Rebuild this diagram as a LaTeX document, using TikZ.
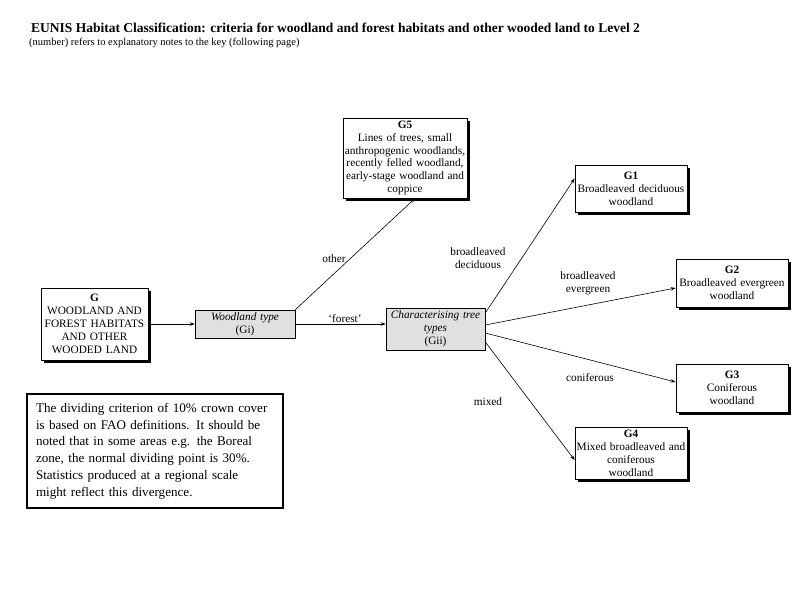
\documentclass[tikz,border=0pt]{standalone}
\usepackage{fontspec}
\setmainfont{Liberation Serif}
\usetikzlibrary{arrows.meta,positioning,calc,shadows}

\begin{document}
\begin{tikzpicture}[
			x=1pt,y=-1pt,
			every node/.style={font=\fontsize{11.3}{12.9}\selectfont},
			habitat/.style={
				draw,
				fill=white,
				align=center,
				inner sep=1pt,
				line width=0.8pt,
				drop shadow={fill=black,opacity=1,shadow xshift=2.5pt,shadow yshift=-2.5pt}
			},
			criterion/.style={
				draw,
				fill=black!12,
				align=center,
				inner sep=1pt,
				line width=0.6pt,
				drop shadow={fill=black!70,opacity=1,shadow xshift=1pt,shadow yshift=-1pt}
			},
			arrow/.style={-{Stealth[length=5pt,width=3.5pt]},line width=0.6pt},
			lbl/.style={align=center,inner sep=0pt}
			]
			
			\useasboundingbox (0,0) rectangle (800,600);
			
			\node[anchor=west,inner sep=0pt,font=\fontsize{13.5}{15}\selectfont\bfseries] (title) at (31,28)
				{EUNIS Habitat Classification: criteria for woodland and forest habitats and other wooded land to Level 2};
			\node[anchor=west,inner sep=0pt,font=\fontsize{10.5}{12}\selectfont] (subtitle) at (29,43)
				{(number) refers to explanatory notes to the key (following page)};
			
			\node[habitat,minimum width=107pt,minimum height=72pt,text width=105pt] (g) at (94.5,324)
				{\textbf{G}\\WOODLAND AND\\FOREST HABITATS\\AND OTHER\\WOODED LAND};
			\node[criterion,minimum width=100pt,minimum height=28pt,text width=98pt] (wtype) at (245,324)
				{\textit{Woodland type}\\(Gi)};
			\node[criterion,minimum width=99pt,minimum height=42pt,text width=97pt] (ctt) at (435.5,329)
				{\textit{Characterising tree}\\\textit{types}\\(Gii)};
			\node[habitat,minimum width=124pt,minimum height=80pt,text width=122pt] (g5) at (405,158)
				{\textbf{G5}\\Lines of trees, small\\anthropogenic woodlands,\\recently felled woodland,\\early-stage woodland and\\coppice};
			\node[habitat,minimum width=112pt,minimum height=47pt,text width=110pt] (g1) at (631,188.5)
				{\textbf{G1}\\Broadleaved deciduous\\woodland};
			\node[habitat,minimum width=112pt,minimum height=48pt,text width=110pt] (g2) at (732,283)
				{\textbf{G2}\\Broadleaved evergreen\\woodland};
			\node[habitat,minimum width=112pt,minimum height=48pt,text width=110pt] (g3) at (732,388)
				{\textbf{G3}\\Coniferous\\woodland};
			\node[habitat,minimum width=112pt,minimum height=52pt,text width=110pt] (g4) at (631,453)
				{\textbf{G4}\\Mixed broadleaved and\\coniferous\\woodland};
			
			\node[draw,line width=2pt,align=left,inner sep=0pt,minimum width=256pt,minimum height=114pt,
				text width=238pt,font=\fontsize{13.1}{16.8}\selectfont] (note) at (155,451)
				{The dividing criterion of 10\% crown cover\\is based on FAO definitions. It should be\\noted that in some areas e.g. the Boreal\\zone, the normal dividing point is 30\%.\\Statistics produced at a regional scale\\might reflect this divergence.};
			
			\draw[arrow] (g.east) -- (wtype.west);
			\draw[arrow] (wtype.east) -- (wtype.east -| ctt.west);
			\draw[arrow] (wtype.north east) -- ($(g5.south)+(10,0)$);
			\draw[arrow] ($(ctt.east)+(0,-16)$) -- ($(g1.west)+(0,-10)$);
			\draw[arrow] ($(ctt.east)+(0,-4)$) -- ($(g2.west)+(0,5)$);
			\draw[arrow] ($(ctt.east)+(0,4)$) -- ($(g3.west)+(0,-6)$);
			\draw[arrow] ($(ctt.east)+(0,13)$) -- ($(g4.west)+(0,7)$);
			
			\node[lbl] (lother) at (334,259) {other};
			\node[lbl] (lforest) at (345,319) {`forest'};
			\node[lbl] (ldecid) at (478,258) {broadleaved\\deciduous};
			\node[lbl] (levergr) at (588,283) {broadleaved\\evergreen};
			\node[lbl] (lconif) at (590,378) {coniferous};
			\node[lbl] (lmixed) at (488,402) {mixed};
			
		\end{tikzpicture}
\end{document}
